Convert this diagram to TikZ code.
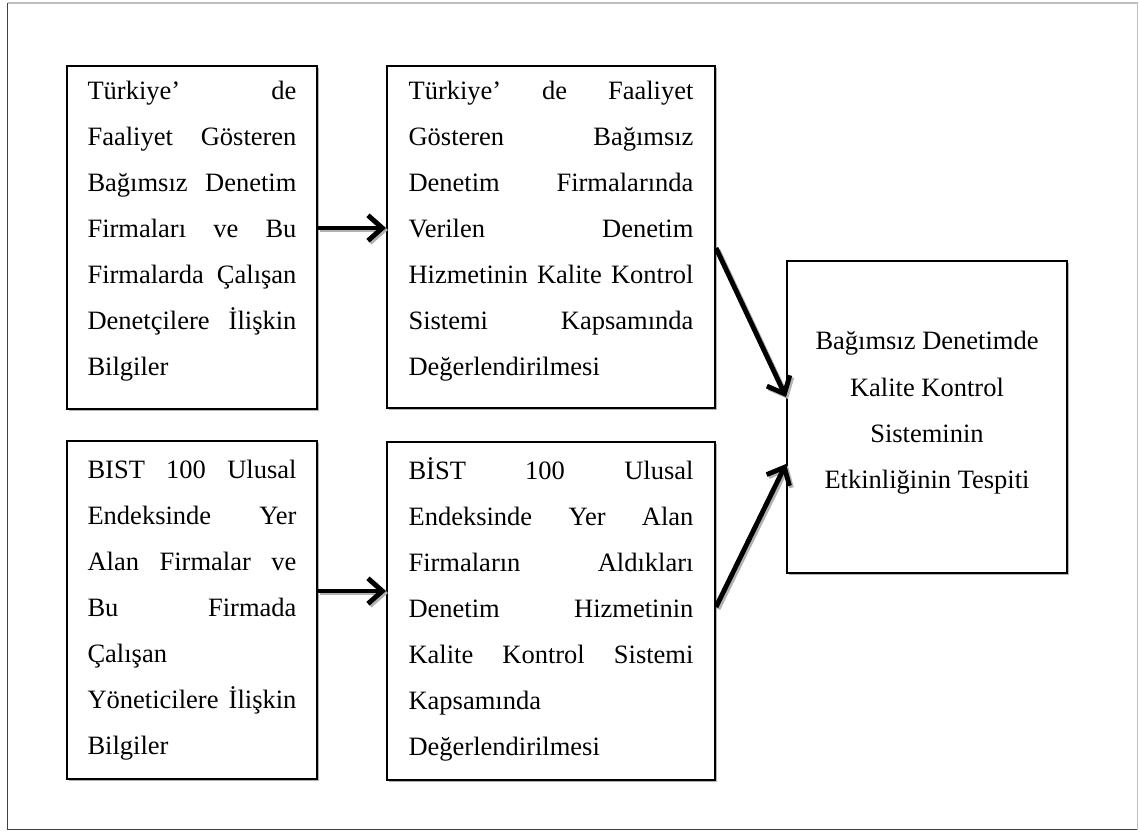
\documentclass[tikz,border=0pt]{standalone}
\usepackage{fontspec}
\setmainfont{Liberation Serif}
\usetikzlibrary{arrows.meta,shadows,calc}
\setlength{\parindent}{0pt}
\newcommand\jl[2]{\makebox[#1][l]{#2}}
\def\u{0.4528pt}
\def\wa{94.6pt}
\def\wb{129pt}
\begin{document}
\begin{tikzpicture}[x=0.4528pt,y=-0.4528pt,
  box/.style={draw, line width=0.9pt, fill=white, inner sep=0pt,
    drop shadow={shadow xshift=1.1pt, shadow yshift=-1.1pt, fill=gray!60, opacity=1},
    font=\fontsize{12}{20.83}\selectfont},
  arr/.style={line width=2.2pt, -{Straight Barb[length=6.5pt,width=11.5pt]}},
  arrshadow/.style={arr, draw=gray!60, transform canvas={shift={(0.9pt,-0.9pt)}}}]
\useasboundingbox (0,0) rectangle (1139,832);
% outer frame
\draw[black!75, line width=0.6pt] (7.5,3) -- (7.5,829.5) -- (1137.5,829.5);
\draw[gray!50, line width=0.6pt] (7.5,3) -- (1137.5,3) -- (1137.5,829.5);
% boxes
\node[box, minimum width={250*\u}, minimum height={343*\u}, text width=\wa, align=left] (b1) at (192,237.5)
 {\rule{0pt}{10pt}\jl{\wa}{Türkiye’\hfill de}\\
  \jl{\wa}{Faaliyet\hfill Gösteren}\\
  \jl{\wa}{Bağımsız\hfill Denetim}\\
  \jl{\wa}{Firmaları\hfill ve\hfill Bu}\\
  \jl{\wa}{Firmalarda\hfill Çalışan}\\
  \jl{\wa}{Denetçilere\hfill İlişkin}\\
  Bilgiler\rule[-10pt]{0pt}{10pt}};
\node[box, minimum width={328*\u}, minimum height={342*\u}, text width=\wb, align=left] (b2) at (551,237)
 {\rule{0pt}{10pt}\jl{\wb}{Türkiye’\hfill de\hfill Faaliyet}\\
  \jl{\wb}{Gösteren\hfill Bağımsız}\\
  \jl{\wb}{Denetim\hfill Firmalarında}\\
  \jl{\wb}{Verilen\hfill Denetim}\\
  \jl{\wb}{Hizmetinin\hfill Kalite\hfill Kontrol}\\
  \jl{\wb}{Sistemi\hfill Kapsamında}\\
  Değerlendirilmesi\rule[-10pt]{0pt}{10pt}};
\node[box, minimum width={250*\u}, minimum height={338*\u}, text width=\wa, align=left] (b3) at (192,610)
 {\rule{0pt}{13pt}\jl{\wa}{BIST\hfill 100\hfill Ulusal}\\
  \jl{\wa}{Endeksinde\hfill Yer}\\
  \jl{\wa}{Alan\hfill Firmalar\hfill ve}\\
  \jl{\wa}{Bu\hfill Firmada}\\
  Çalışan\\
  \jl{\wa}{Yöneticilere\hfill İlişkin}\\
  Bilgiler\rule[-7pt]{0pt}{7pt}};
\node[box, minimum width={328*\u}, minimum height={338*\u}, text width=\wb, align=left] (b4) at (551,611)
 {\rule{0pt}{13pt}\jl{\wb}{BİST\hfill 100\hfill Ulusal}\\
  \jl{\wb}{Endeksinde\hfill Yer\hfill Alan}\\
  \jl{\wb}{Firmaların\hfill Aldıkları}\\
  \jl{\wb}{Denetim\hfill Hizmetinin}\\
  \jl{\wb}{Kalite\hfill Kontrol\hfill Sistemi}\\
  Kapsamında\\
  Değerlendirilmesi\rule[-7pt]{0pt}{7pt}};
\node[box, minimum width={280*\u}, minimum height={312*\u}, align=center] (b5) at (927,417)
 {\rule{0pt}{11pt}Bağımsız Denetimde\\
  Kalite Kontrol\\
  Sisteminin\\
  Etkinliğinin Tespiti\rule[-9.2pt]{0pt}{9.2pt}};
% arrow shadows
\draw[arrshadow] ($(b1.east)+(0,-9.5)$) -- ($(b2.west)+(0,-9)$);
\draw[arrshadow] ($(b3.east)+(0,-19)$) -- ($(b4.west)+(0,-20)$);
\draw[arrshadow] ($(b2.east)+(0,11)$) -- ($(b5.west)+(0,-20)$);
\draw[arrshadow] ($(b4.east)+(0,-4)$) -- ($(b5.west)+(0,47)$);
% arrows
\draw[arr] ($(b1.east)+(0,-9.5)$) -- ($(b2.west)+(0,-9)$);
\draw[arr] ($(b3.east)+(0,-19)$) -- ($(b4.west)+(0,-20)$);
\draw[arr] ($(b2.east)+(0,11)$) -- ($(b5.west)+(0,-20)$);
\draw[arr] ($(b4.east)+(0,-4)$) -- ($(b5.west)+(0,47)$);
\end{tikzpicture}
\end{document}
